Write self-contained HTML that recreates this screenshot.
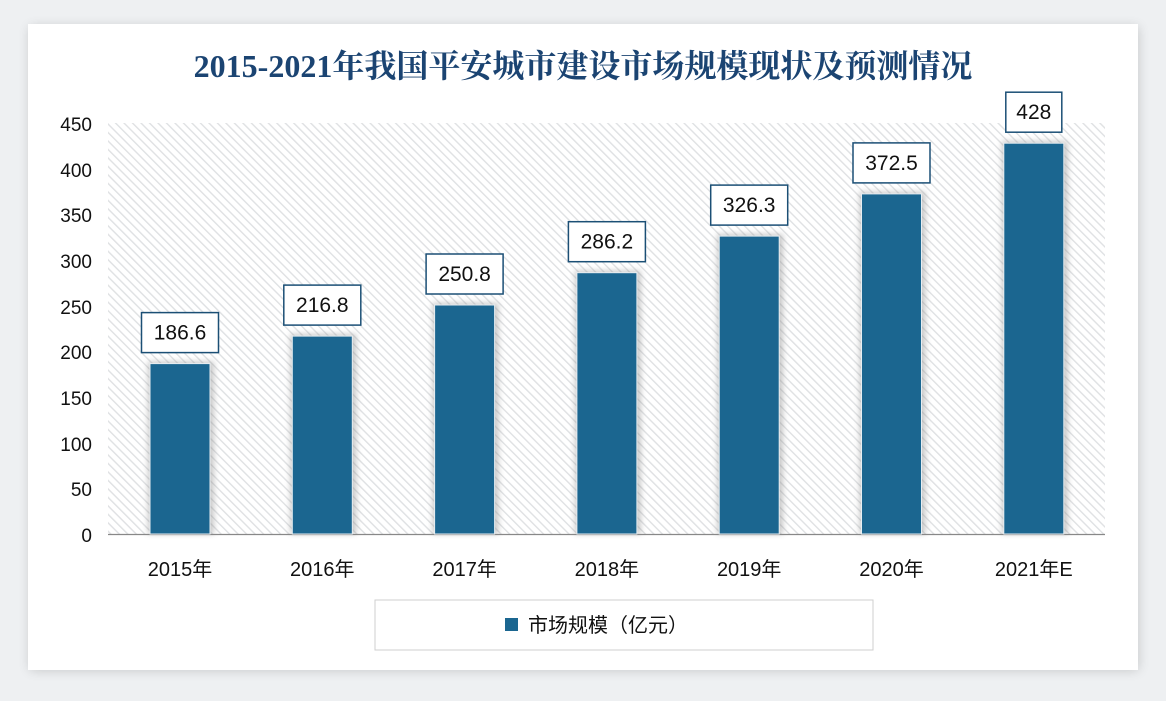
<!DOCTYPE html>
<html><head><meta charset="utf-8"><style>
body{margin:0;width:1166px;height:696px;background:#eef0f2;font-family:"Liberation Sans","Noto Sans CJK SC",sans-serif;overflow:hidden}
</style></head><body>
<svg width="1166" height="696" xmlns="http://www.w3.org/2000/svg" font-family="'Liberation Sans','Noto Sans CJK SC',sans-serif">
<defs>
<pattern id="h" patternUnits="userSpaceOnUse" width="6" height="6" patternTransform="rotate(-45)">
<rect width="6" height="6" fill="#fff"/><rect width="1.4" height="6" fill="#dfe1e3"/>
</pattern>
<filter id="sh" x="-10%" y="-10%" width="120%" height="120%"><feGaussianBlur stdDeviation="6"/></filter>
<filter id="bs" x="-30%" y="-10%" width="160%" height="120%"><feGaussianBlur stdDeviation="3"/></filter>
</defs>
<rect x="30" y="27" width="1108" height="643" fill="#000" opacity="0.18" filter="url(#sh)"/>
<rect x="28" y="24" width="1110" height="646" fill="#fff"/>
<text x="583" y="77" text-anchor="middle" font-family="'Liberation Serif','Noto Serif CJK SC',serif" font-weight="bold" font-size="32" fill="#1b4472">2015-2021年我国平安城市建设市场规模现状及预测情况</text>
<rect x="108" y="123" width="997" height="411" fill="url(#h)"/>
<line x1="108" y1="534.5" x2="1105" y2="534.5" stroke="#888" stroke-width="1.2"/>
<g font-size="19" fill="#111" text-anchor="end">
<text x="92" y="131">450</text><text x="92" y="177">400</text><text x="92" y="222">350</text><text x="92" y="268">300</text><text x="92" y="314">250</text><text x="92" y="359">200</text><text x="92" y="405">150</text><text x="92" y="451">100</text><text x="92" y="496">50</text><text x="92" y="542">0</text>
</g>
<g fill="#888" opacity="0.45" filter="url(#bs)">
<rect x="148" y="361.6" width="66" height="172.4"/>
<rect x="290.3" y="334.1" width="66" height="199.9"/>
<rect x="432.6" y="303" width="66" height="231"/>
<rect x="574.9" y="270.7" width="66" height="263.3"/>
<rect x="717.2" y="234.1" width="66" height="299.9"/>
<rect x="859.5" y="191.9" width="66" height="342.1"/>
<rect x="1001.8" y="141.2" width="66" height="392.8"/>
</g>
<g fill="#1b6690" stroke="#e8eef2" stroke-width="1">
<rect x="150" y="363.6" width="60" height="170.4"/>
<rect x="292.3" y="336.1" width="60" height="197.9"/>
<rect x="434.6" y="305" width="60" height="229"/>
<rect x="576.9" y="272.7" width="60" height="261.3"/>
<rect x="719.2" y="236.1" width="60" height="297.9"/>
<rect x="861.5" y="193.9" width="60" height="340.1"/>
<rect x="1003.8" y="143.2" width="60" height="390.8"/>
</g>
<g fill="#fff" stroke="#1b4f75" stroke-width="1.5">
<rect x="141.5" y="312.6" width="77" height="40"/>
<rect x="283.8" y="285.1" width="77" height="40"/>
<rect x="426.1" y="254" width="77" height="40"/>
<rect x="568.4" y="221.7" width="77" height="40"/>
<rect x="710.7" y="185.1" width="77" height="40"/>
<rect x="853" y="142.9" width="77" height="40"/>
<rect x="1005.8" y="92.2" width="56" height="40"/>
</g>
<g font-size="21" fill="#111" text-anchor="middle">
<text x="180" y="339.6">186.6</text>
<text x="322.3" y="312.1">216.8</text>
<text x="464.6" y="281">250.8</text>
<text x="606.9" y="248.7">286.2</text>
<text x="749.2" y="212.1">326.3</text>
<text x="891.5" y="169.9">372.5</text>
<text x="1033.8" y="119.2">428</text>
</g>
<g font-size="20" fill="#111" text-anchor="middle">
<text x="180" y="576">2015年</text>
<text x="322.3" y="576">2016年</text>
<text x="464.6" y="576">2017年</text>
<text x="606.9" y="576">2018年</text>
<text x="749.2" y="576">2019年</text>
<text x="891.5" y="576">2020年</text>
<text x="1033.8" y="576">2021年E</text>
</g>
<rect x="375" y="600" width="498" height="50" fill="#fff" stroke="#cfcfcf"/>
<rect x="505" y="618" width="13" height="13" fill="#1b6690"/>
<text x="528" y="632" font-size="20" fill="#111">市场规模（亿元）</text>
</svg>
</body></html>
